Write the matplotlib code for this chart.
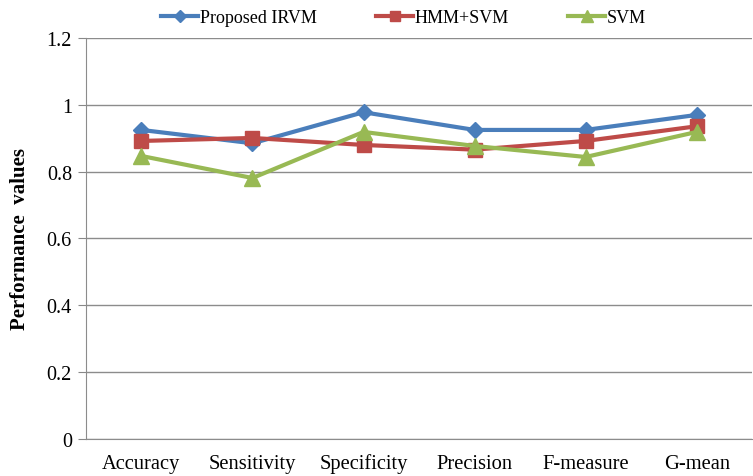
import matplotlib
matplotlib.use("Agg")
import matplotlib.pyplot as plt

categories = ["Accuracy", "Sensitivity", "Specificity", "Precision", "F-measure", "G-mean"]
irvm = [0.925, 0.885, 0.978, 0.925, 0.925, 0.970]
hmm_svm = [0.892, 0.901, 0.880, 0.866, 0.892, 0.936]
svm = [0.847, 0.781, 0.919, 0.877, 0.844, 0.919]
yticks = [0, 0.2, 0.4, 0.6, 0.8, 1, 1.2]
ytick_labels = ["0", "0.2", "0.4", "0.6", "0.8", "1", "1.2"]

plt.rcParams['font.family'] = ['Liberation Serif', 'DejaVu Serif']
fig = plt.figure(figsize=(7.53, 4.77), dpi=100)
ax = fig.add_axes([0.114, 0.078, 0.885, 0.84])

x = list(range(len(categories)))
ax.plot(x, irvm, color="#4a7ebb", lw=3, marker="D", ms=8, label="Proposed IRVM", zorder=3)
ax.plot(x, hmm_svm, color="#be4b48", lw=3, marker="s", ms=10, label="HMM+SVM", zorder=3)
ax.plot(x, svm, color="#98b954", lw=3, marker="^", ms=11, label="SVM", zorder=3)

ax.set_xlim(-0.5, len(categories) - 0.5)
ax.set_ylim(0, 1.2)
ax.set_yticks(yticks)
ax.set_yticklabels(ytick_labels, fontsize=14.5)
ax.set_xticks(x)
ax.set_xticklabels(categories, fontsize=14.8)
for lbl in ax.get_xticklabels():
    lbl.set_va("baseline")
ax.tick_params(axis='x', length=0, pad=21)
ax.tick_params(axis='y', length=6, color="#888888", pad=4)
ax.yaxis.grid(True, color="#8c8c8c", lw=1)
ax.set_axisbelow(True)
for s in ["top", "right"]:
    ax.spines[s].set_visible(False)
ax.spines["left"].set_color("#8c8c8c")
ax.spines["bottom"].set_color("#8c8c8c")
ax.set_ylabel("Performance  values", fontsize=15, fontweight="bold", labelpad=12)

fig.legend(loc="upper center", bbox_to_anchor=(0.536, 1.013), ncol=3, frameon=False,
           fontsize=13, handlelength=2.05, handletextpad=0.08, columnspacing=3.3,
           markerscale=0.75)

fig.savefig("out.png", dpi=100)
